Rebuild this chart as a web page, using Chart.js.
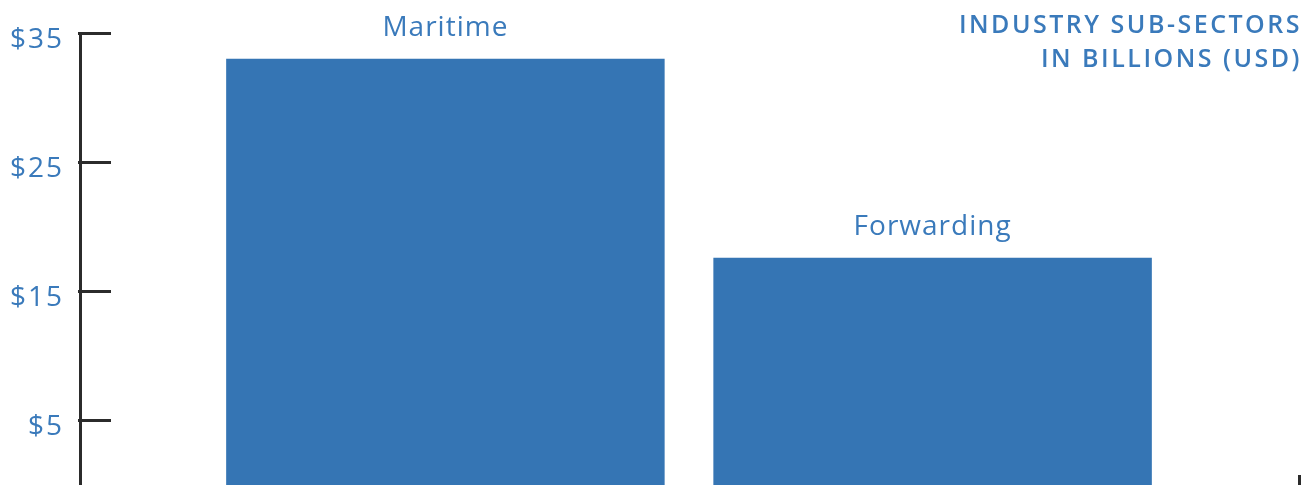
<!DOCTYPE html>
<html>
<head>
<meta charset="utf-8">
<script src="https://cdn.jsdelivr.net/npm/chart.js@4/dist/chart.umd.min.js"></script>
<style>
  html, body { margin: 0; padding: 0; background: #ffffff; overflow: hidden; }
  canvas { display: block; }
</style>
</head>
<body>
<canvas id="c" width="1310" height="485"></canvas>
<script>
// ---- data ----
const categories = ["Maritime", "Forwarding"];
const values = [33.0, 17.6];            // billions USD
const tickValues = [5, 15, 25, 35];
const titleLines = ["INDUSTRY SUB-SECTORS", "IN BILLIONS (USD)"];

const BLUE = "#3a7abb";
const BAR = "#3575b4";
const AXIS = "#2b2b2b";
const FONT = "'Open Sans', 'Noto Sans', sans-serif";

const decorPlugin = {
  id: "decor",
  beforeDraw(chart) {
    chart.ctx.letterSpacing = "2px";
  },
  afterDatasetsDraw(chart) {
    const ctx = chart.ctx;
    const y = chart.scales.y;
    const area = chart.chartArea;
    ctx.save();
    // inward tick marks
    ctx.strokeStyle = AXIS;
    ctx.lineWidth = 3;
    tickValues.forEach(v => {
      const py = Math.round(y.getPixelForValue(v)) + 0.5;
      ctx.beginPath();
      ctx.moveTo(area.left - 2, py);
      ctx.lineTo(area.left + 31, py);
      ctx.stroke();
    });
    // small right end tick of x axis
    ctx.beginPath();
    ctx.moveTo(area.right + 1.5, area.bottom - 10);
    ctx.lineTo(area.right + 1.5, area.bottom);
    ctx.stroke();
    // category labels above bars
    ctx.fillStyle = BLUE;
    ctx.font = "400 28px " + FONT;
    ctx.letterSpacing = "1px";
    ctx.textAlign = "center";
    ctx.textBaseline = "alphabetic";
    const meta = chart.getDatasetMeta(0);
    meta.data.forEach((bar, i) => {
      ctx.fillText(categories[i], bar.x, bar.y - 23);
    });
    // title (top right)
    ctx.font = "600 25px " + FONT;
    ctx.letterSpacing = "2.5px";
    ctx.textAlign = "right";
    ctx.fillText(titleLines[0], 1302, 33);
    ctx.fillText(titleLines[1], 1302, 67);
    ctx.restore();
  }
};

new Chart(document.getElementById("c"), {
  type: "bar",
  data: {
    datasets: [{
      data: values.map((v, i) => ({ x: i, y: v })),
      backgroundColor: BAR,
      borderWidth: 0,
      barPercentage: 0.9,
      categoryPercentage: 1.0
    }]
  },
  options: {
    responsive: false,
    animation: false,
    events: [],
    layout: { padding: { top: 33, right: 12, bottom: 0, left: 0 } },
    plugins: { legend: { display: false }, tooltip: { enabled: false }, title: { display: false } },
    scales: {
      x: {
        type: "linear",
        min: -0.75,
        max: 1.75,
        offset: false,
        display: false,
        afterBuildTicks(scale) { scale.ticks = categories.map((c, i) => ({ value: i })); },
        grid: { display: false }
      },
      y: {
        min: 0,
        max: 35,
        afterBuildTicks(scale) { scale.ticks = tickValues.map(v => ({ value: v })); },
        afterFit(scale) { scale.width = 80; scale.paddingTop = 0; scale.paddingBottom = 0; },
        grid: { display: false, drawTicks: false },
        border: { display: true, color: AXIS, width: 3 },
        ticks: {
          color: BLUE,
          padding: 16,
          labelOffset: 7,
          font: { family: FONT, size: 28, weight: "400" },
          callback: v => "$" + v
        }
      }
    }
  },
  plugins: [decorPlugin]
});
</script>
</body>
</html>
